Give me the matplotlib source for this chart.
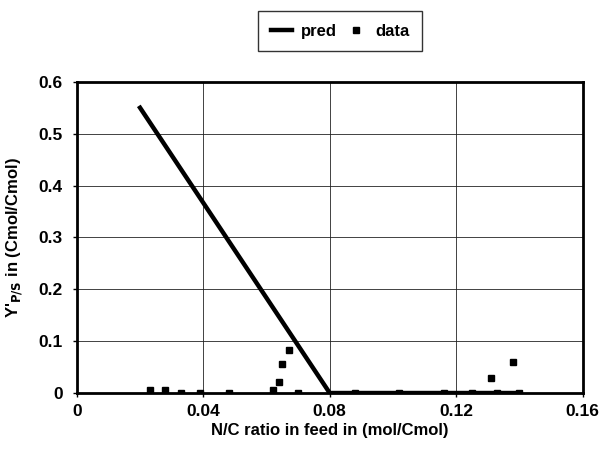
import numpy as np
import matplotlib.pyplot as plt

plt.rcParams['font.family'] = ['Liberation Sans', 'DejaVu Sans']
plt.rcParams['font.weight'] = 'bold'

# model prediction
pred_x = [0.02, 0.08, 0.14]
pred_y = [0.55, 0.0, 0.0]

# measured data
data_x = [0.023, 0.028, 0.033, 0.039, 0.048, 0.062, 0.064, 0.065, 0.067, 0.070,
          0.088, 0.102, 0.116, 0.125, 0.131, 0.133, 0.138, 0.140]
data_y = [0.005, 0.006, 0.0, 0.0, 0.0, 0.005, 0.022, 0.056, 0.082, 0.0,
          0.0, 0.0, 0.0, 0.0, 0.028, 0.0, 0.060, 0.0]

xticks = [0, 0.04, 0.08, 0.12, 0.16]
xtick_labels = ['0', '0.04', '0.08', '0.12', '0.16']
yticks = [0, 0.1, 0.2, 0.3, 0.4, 0.5, 0.6]
ytick_labels = ['0', '0.1', '0.2', '0.3', '0.4', '0.5', '0.6']

fig = plt.figure(figsize=(6.05, 4.57), dpi=100)
ax = fig.add_axes([0.127, 0.140, 0.836, 0.681])

ax.plot(pred_x, pred_y, color='black', lw=3.2, label='pred', zorder=3)
ax.plot(data_x, data_y, 's', color='black', ms=5, label='data', zorder=4)

ax.set_xlim(0, 0.16)
ax.set_ylim(0, 0.6)
ax.set_xticks(xticks)
ax.set_xticklabels(xtick_labels)
ax.set_yticks(yticks)
ax.set_yticklabels(ytick_labels)
ax.tick_params(axis='x', labelsize=12.5, direction='out', length=3, width=1, pad=5)
ax.tick_params(axis='y', labelsize=12.5, direction='out', length=3, width=1, pad=7)
ax.grid(True, color='#222222', lw=0.6)
for s in ax.spines.values():
    s.set_linewidth(2)

ax.set_xlabel('N/C ratio in feed in (mol/Cmol)', fontsize=12, fontweight='bold', labelpad=3)
ax.set_ylabel(r"Y'$_{\mathbf{P/S}}$ in (Cmol/Cmol)", fontsize=12, fontweight='bold', labelpad=10)

leg = fig.legend(loc='center', bbox_to_anchor=(0.562, 0.932), ncol=2, fontsize=12,
                 frameon=True, fancybox=False, edgecolor='black', handlelength=1.3,
                 columnspacing=0.5, handletextpad=0.5, borderpad=0.75, markerscale=0.9)
leg.get_frame().set_linewidth(1)

fig.savefig('out.png', dpi=100)
